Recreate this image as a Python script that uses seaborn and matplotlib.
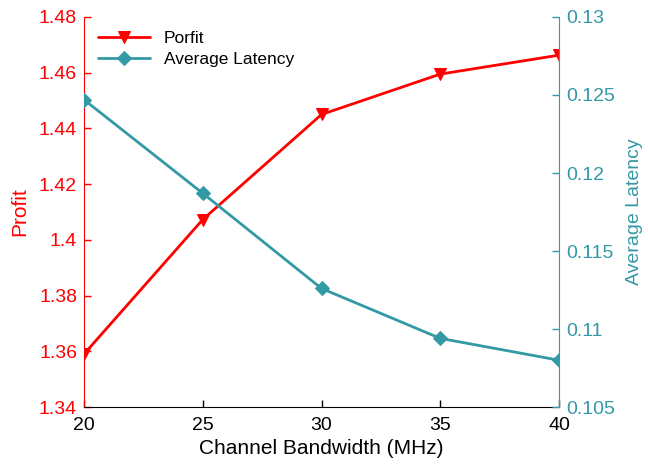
import matplotlib
matplotlib.use("Agg")
import matplotlib.pyplot as plt
import pandas as pd
import seaborn as sns

bandwidth = [20, 25, 30, 35, 40]
profit = [1.359, 1.4073, 1.445, 1.4595, 1.4663]
latency = [0.1247, 0.1187, 0.1126, 0.1094, 0.1080]

red = "#ff0000"
teal = "#3399a5"

sns.set_style("white")
plt.rcParams["font.family"] = ["Liberation Sans", "DejaVu Sans"]

df = pd.DataFrame({"bw": bandwidth, "profit": profit, "latency": latency})

fig = plt.figure(figsize=(6.48, 4.68), dpi=100)
ax = fig.add_axes([0.1296, 0.1303, 0.7331, 0.8334])
ax2 = ax.twinx()

sns.lineplot(data=df, x="bw", y="profit", ax=ax, color=red, marker="v",
             markersize=9, linewidth=2, markeredgecolor=red, label="Porfit", legend=False)
sns.lineplot(data=df, x="bw", y="latency", ax=ax2, color=teal, marker="D",
             markersize=7.5, linewidth=2, markeredgecolor=teal, label="Average Latency", legend=False)

ax.set_xlim(20, 40)
ax.set_ylim(1.34, 1.48)
ax2.set_ylim(0.105, 0.13)
ax.set_xticks(bandwidth)
ax.set_yticks([1.34, 1.36, 1.38, 1.40, 1.42, 1.44, 1.46, 1.48])
ax.set_yticklabels(["1.34", "1.36", "1.38", "1.4", "1.42", "1.44", "1.46", "1.48"])
ax2.set_yticks([0.105, 0.11, 0.115, 0.12, 0.125, 0.13])
ax2.set_yticklabels(["0.105", "0.11", "0.115", "0.12", "0.125", "0.13"])

for a in (ax, ax2):
    a.spines["top"].set_visible(False)
    a.tick_params(direction="in", length=5, width=1, labelsize=14)
ax.tick_params(bottom=True, left=True, right=False, top=False)
ax2.tick_params(right=True, left=False, bottom=False, top=False)
ax.spines["right"].set_visible(False)
ax.spines["left"].set_color(red)
ax.spines["bottom"].set_color("black")
ax2.spines["left"].set_visible(False)
ax2.spines["bottom"].set_visible(False)
ax2.spines["right"].set_color(teal)
ax.tick_params(axis="y", colors=red, pad=5)
ax.tick_params(axis="x", colors="black", labelcolor="black", pad=7)
ax2.tick_params(axis="y", colors=teal, pad=5)

ax.set_xlabel("Channel Bandwidth (MHz)", fontsize=15, color="black", labelpad=4)
ax.set_ylabel("Profit", fontsize=15, color=red, labelpad=7)
ax2.set_ylabel("Average Latency", fontsize=14, color=teal, labelpad=8)

h1, l1 = ax.get_legend_handles_labels()
h2, l2 = ax2.get_legend_handles_labels()
leg = ax.legend(h1 + h2, l1 + l2, loc="upper left", frameon=False, fontsize=12.5,
                handlelength=3, borderaxespad=0.4, labelspacing=0.35)
for t in leg.get_texts():
    t.set_color("black")

fig.savefig("out.png", dpi=100)
